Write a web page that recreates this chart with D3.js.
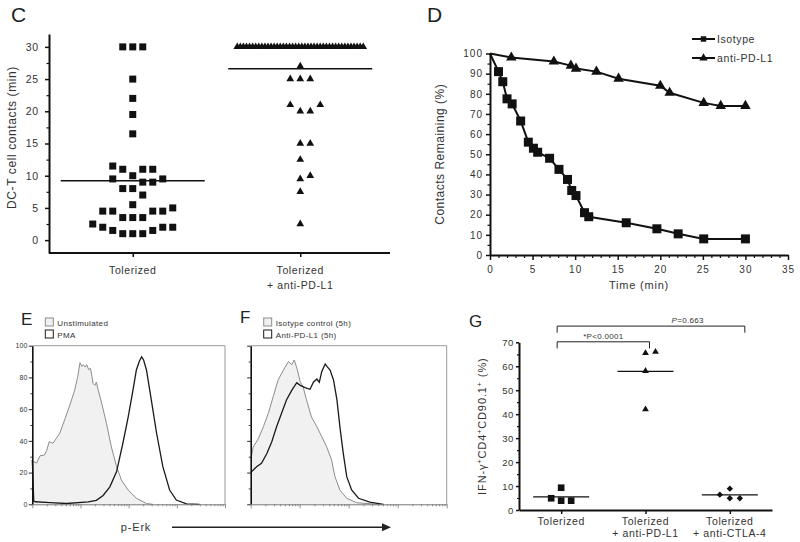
<!DOCTYPE html>
<html><head><meta charset="utf-8">
<script src="https://cdn.jsdelivr.net/npm/d3@7"></script>
<style>
body{margin:0;background:#fff;}
svg{display:block;font-family:"Liberation Sans",Arial,Helvetica,sans-serif;}
</style></head><body>
<svg id="fig" width="800" height="542"></svg>
<script>
// ================= DATA =================
// Panel C : DC-T cell contact duration (min)
const cCategories = ["Tolerized", "Tolerized|+ anti-PD-L1"];
const cTolerized = [30,30,30,25,22,19.5,16.5,11.5,11,11,11,10,9.5,9.5,9,9,8,8,7,5.5,5,4.5,4.5,4.5,4.5,3.5,3.5,3.5,2.5,2,2,2,1.5,1.5,1,1,1];
const cAntiPDL1 = [30,30,30,30,30,30,30,30,30,30,30,30,30,30,30,30,30,30,30,30,30,
                   30,30,30,30,30,30,30,30,30,30,30,30,30,30,30,30,30,30,30,30,30,
                   27,25,25,25,21,21,20,20,15,15,12.5,10,9.5,7.5,2.5];
const cYTicks = [0,5,10,15,20,25,30];
const cYMinor = [2.5,7.5,12.5,17.5,22.5,27.5];

// Panel D : contacts remaining (%)
const dIsoTime = [0,1,1.5,2,2.6,3.6,4.5,5.1,5.6,7,8.1,9.1,9.6,10.1,11.1,11.6,16,19.6,22.1,25.1,30];
const dIsotype = [100,91,86,77.5,75,66.5,56,53,51,48,42.5,37.5,32,29.5,21,19,16,13,10.5,8,8];
const dAntiTime = [0,2.5,7.5,9.5,10.1,12.5,15.1,20,21.1,25.1,27.1,30];
const dAntiPDL1 = [100,98,96,94,92.5,91,87.5,84,80.5,75.5,74,74];
const dXTicks = [0,5,10,15,20,25,30,35];
const dXMinor = [1,2,3,4,6,7,8,9,11,12,13,14,16,17,18,19,21,22,23,24,26,27,28,29,31,32,33,34];
const dYTicks = [0,10,20,30,40,50,60,70,80,90,100];
const dYMinor = [5,15,25,35,45,55,65,75,85,95];
const dSeries = ["Isotype", "anti-PD-L1"];

// Panels E / F : p-Erk histograms  [log10 intensity, % of max]
const eUnstim = [[0,28],[0.02,27],[0.09,26],[0.16,30.6],[0.25,31],[0.3,34],[0.35,39.5],[0.43,38.5],[0.5,41.6],[0.57,44.8],[0.62,49],[0.68,54],[0.78,62.6],[0.88,72],[0.94,80],[0.99,89.3],[1.03,87],[1.06,88],[1.1,86.5],[1.13,88],[1.17,85],[1.21,85.7],[1.26,76.3],[1.3,75],[1.33,77],[1.36,73],[1.44,63.7],[1.54,51],[1.64,36.3],[1.75,23.7],[1.85,15.3],[1.99,9],[2.16,3.8],[2.37,0.5],[2.5,0]];
const ePMA = [[0,28],[0.03,2],[0.06,1.6],[0.37,1],[0.71,0.5],[1.16,1.5],[1.33,2.5],[1.47,5.6],[1.61,11],[1.75,20.6],[1.88,38.5],[1.99,55],[2.09,72],[2.16,84.7],[2.22,90],[2.27,93],[2.31,91],[2.37,84.7],[2.47,65.8],[2.58,44.8],[2.71,23.7],[2.85,9],[2.99,2.7],[3.2,0.3],[3.47,0]];
const fIsotype = [[0,29],[0.02,31],[0.05,36],[0.16,41.6],[0.26,49],[0.36,57.4],[0.46,68],[0.56,78.4],[0.67,84.7],[0.77,90],[0.84,88],[0.89,91],[0.95,85],[1.01,77.3],[1.07,74],[1.14,65.8],[1.24,55],[1.35,49],[1.45,42.6],[1.55,36.3],[1.65,28],[1.72,17.4],[1.82,9],[1.96,3.8],[2.16,1],[2.5,0.2],[2.64,0]];
const fAntiPDL1 = [[0,20],[0.02,20.6],[0.12,23.7],[0.22,25.8],[0.33,32],[0.43,39.5],[0.53,49],[0.63,57.4],[0.73,65.8],[0.84,72],[0.94,76.7],[1.01,75],[1.11,73.6],[1.21,72.5],[1.28,77],[1.35,79],[1.4,77],[1.45,83.6],[1.52,88.5],[1.56,86.8],[1.62,84.7],[1.69,78.4],[1.76,65.8],[1.82,49],[1.89,32],[1.96,17.4],[2.06,9],[2.2,3.8],[2.43,1.3],[2.71,0]];
const hYTicks = [0,20,40,60,80,100];
const hYMinor = [10,30,50,70,90];
const hDecades = [0,1,2,3,4];
const eLegend = ["Unstimulated", "PMA"];
const fLegend = ["Isotype control (5h)", "Anti-PD-L1 (5h)"];

// Panel G : IFN-γ+CD4+CD90.1+ (%)
const gCategories = ["Tolerized", "Tolerized|+ anti-PD-L1", "Tolerized|+ anti-CTLA-4"];
const gTolerized = [4.9, 9.3, 3.9, 3.9];
const gAntiPDL1 = [65.5, 66, 58, 42];
const gAntiCTLA4 = [8.9, 6.4, 4.9, 4.9];
const gYTicks = [0,10,20,30,40,50,60,70];
const gYMinor = [5,15,25,35,45,55,65];
const gComparisons = [{from:0, to:1, label:"*P<0.0001"}, {from:0, to:2, label:"P=0.663"}];

// ================= DRAWING =================
const svg = d3.select("#fig");
const INK = "#111", TXT = "#333";

function styleAxis(g, o) {
  g.select(".domain").attr("stroke", o.dc || INK).attr("stroke-width", o.dw || 2);
  g.selectAll(".tick line").attr("stroke", o.tc || INK).attr("stroke-width", o.tw || 1.5);
  g.selectAll(".tick text").attr("fill", TXT).attr("font-size", o.fs || 10).attr("letter-spacing", o.ls || 0);
  return g;
}
function minorAxis(axis, at, vals, size, color, w) {
  svg.append("g").attr("transform", at)
    .call(axis.tickValues(vals).tickSize(size).tickFormat("").tickSizeOuter(0))
    .call(g => g.select(".domain").remove())
    .call(g => g.selectAll(".tick line").attr("stroke", color || INK).attr("stroke-width", w || 1.2));
}
function swarm(values, y, step, thresh, spreadWidth, tieMax) {
  const counts = d3.rollup(values, v => v.length, d => d);
  const seen = new Map();
  const placed = [];
  const slots = [0,1,-1,2,-2,3,-3,4,-4,5,-5,6,-6,7,-7];
  return values.slice().sort(d3.ascending).map(v => {
    const n = counts.get(v);
    if (n > tieMax) {
      const i = seen.get(v) || 0; seen.set(v, i + 1);
      return {v, dx: -spreadWidth / 2 + spreadWidth * i / (n - 1)};
    }
    const py = y(v);
    const k = slots.find(s => placed.every(p => p.s !== s || Math.abs(p.y - py) >= thresh));
    placed.push({s: k, y: py});
    return {v, dx: k * step};
  });
}
function catLabel(sel, text, x, y0, lh, fs, ls) {
  text.split("|").forEach((t, i) => {
    sel.append("text").attr("x", x).attr("y", y0 + i * lh).attr("text-anchor", "middle")
      .attr("font-size", fs).attr("letter-spacing", ls).attr("fill", TXT).text(t);
  });
}
function panelLetter(t, x, y, fs) {
  svg.append("text").attr("x", x).attr("y", y).attr("font-size", fs).attr("fill", "#222").text(t);
}

// ---------- Panel C ----------
{
  const y = d3.scaleLinear([-2, 32], [253, 34]);
  const x = d3.scalePoint(cCategories, [49, 384]).padding(0.5);
  const x0 = x.range()[0], yb = y.range()[0];
  panelLetter("C", 11, 22, 21);
  svg.append("g").attr("transform", `translate(${x0},0)`)
    .call(d3.axisLeft(y).tickValues(cYTicks).tickSize(4).tickPadding(6).tickSizeOuter(0))
    .call(g => styleAxis(g, {fs: 10.5, ls: 0.8}));
  minorAxis(d3.axisLeft(y), `translate(${x0},0)`, cYMinor, 2.5);
  const xa = svg.append("g").attr("transform", `translate(0,${yb})`)
    .call(d3.axisBottom(x).tickSize(4).tickFormat("").tickSizeOuter(0))
    .call(g => styleAxis(g, {}));
  xa.select(".domain").attr("d", `M${x0},0H${x.range()[1] + 6}`);
  cCategories.forEach(c => catLabel(svg, c, x(c), yb + 21, 15, 10.5, 0.6));
  svg.append("text").attr("transform", `translate(12,${(y(30) + y(0)) / 2 - 6}) rotate(-90)`)
    .attr("text-anchor", "middle").attr("dy", "0.35em").attr("font-size", 12)
    .attr("letter-spacing", 0.6).attr("fill", TXT).text("DC-T cell contacts (min)");

  const groups = [
    {cat: cCategories[0], vals: cTolerized, sym: d3.symbolSquare, size: 49},
    {cat: cCategories[1], vals: cAntiPDL1, sym: d3.symbolTriangle, size: 26}
  ];
  groups.forEach(gr => {
    const cx = x(gr.cat);
    const m = d3.mean(gr.vals);
    svg.append("line").attr("x1", cx - 72).attr("x2", cx + 72)
      .attr("y1", y(m)).attr("y2", y(m)).attr("stroke", INK).attr("stroke-width", 1.6);
    svg.append("g").selectAll("path").data(swarm(gr.vals, y, 10, 10, 126, 12)).join("path")
      .attr("transform", d => `translate(${cx + d.dx},${y(d.v)})`)
      .attr("d", d3.symbol(gr.sym, gr.size)).attr("fill", INK);
  });
}

// ---------- Panel D ----------
{
  const x = d3.scaleLinear([0, 35], [490, 788]);
  const y = d3.scaleLinear([0, 100], [255, 53.5]);
  panelLetter("D", 427, 22, 21);
  svg.append("g").attr("transform", `translate(${x(0)},0)`)
    .call(d3.axisLeft(y).tickValues(dYTicks).tickSize(4).tickPadding(3).tickSizeOuter(0))
    .call(g => styleAxis(g, {fs: 10, ls: 1}));
  minorAxis(d3.axisLeft(y), `translate(${x(0)},0)`, dYMinor, 2.5);
  svg.append("g").attr("transform", `translate(0,${y(0)})`)
    .call(d3.axisBottom(x).tickValues(dXTicks).tickSize(5).tickPadding(5.5).tickSizeOuter(0))
    .call(g => styleAxis(g, {fs: 10, ls: 1}));
  minorAxis(d3.axisBottom(x), `translate(0,${y(0)})`, dXMinor, 3);
  svg.append("text").attr("x", (x(0) + x(35)) / 2).attr("y", 289).attr("text-anchor", "middle")
    .attr("font-size", 11).attr("letter-spacing", 0.8).attr("fill", TXT).text("Time (min)");
  svg.append("text").attr("transform", `translate(440,${(y(0) + y(100)) / 2}) rotate(-90)`)
    .attr("text-anchor", "middle").attr("dy", "0.35em").attr("font-size", 12)
    .attr("letter-spacing", 0.5).attr("fill", TXT).text("Contacts Remaining (%)");

  const line = d3.line().x(d => x(d[0])).y(d => y(d[1]));
  const iso = dIsoTime.map((t, i) => [t, dIsotype[i]]);
  const anti = dAntiTime.map((t, i) => [t, dAntiPDL1[i]]);
  [[iso, d3.symbolSquare, 81], [anti, d3.symbolTriangle, 48]].forEach(([pts, sym, sz]) => {
    svg.append("path").attr("d", line(pts)).attr("fill", "none").attr("stroke", INK).attr("stroke-width", 2);
    svg.append("g").selectAll("path").data(pts.filter(p => p[0] > 0)).join("path")
      .attr("transform", d => `translate(${x(d[0])},${y(d[1])})`)
      .attr("d", d3.symbol(sym, sz)).attr("fill", INK);
  });
  // legend
  const lg = svg.append("g").attr("transform", "translate(692,39)");
  [[dSeries[0], d3.symbolSquare, 30], [dSeries[1], d3.symbolTriangle, 30]].forEach(([t, sym, sz], i) => {
    const row = lg.append("g").attr("transform", `translate(0,${i * 19})`);
    row.append("line").attr("x1", 0).attr("x2", 23).attr("stroke", INK).attr("stroke-width", 2);
    row.append("path").attr("transform", "translate(11.5,0)").attr("d", d3.symbol(sym, sz)).attr("fill", INK);
    row.append("text").attr("x", 25).attr("dy", "0.35em").attr("font-size", 10.5)
      .attr("letter-spacing", 0.6).attr("fill", TXT).text(t);
  });
}

// ---------- Panels E and F ----------
{
  const y = d3.scaleLinear([0, 100], [504.3, 345.7]);
  const panels = [
    {x: d3.scaleLinear([0, 4], [32.3, 225]), fill: eUnstim, dark: ePMA, labels: true, legend: eLegend, letter: "E", lx: 21, ly: 325},
    {x: d3.scaleLinear([0, 4], [250.7, 446.7]), fill: fIsotype, dark: fAntiPDL1, labels: false, legend: fLegend, letter: "F", lx: 240, ly: 323}
  ];
  panels.forEach(p => {
    const x = p.x, xl = x.range()[0], xr = x.range()[1];
    panelLetter(p.letter, p.lx, p.ly, 17);
    // frame
    svg.append("path").attr("d", `M${xl},${y(100)}H${xr}V${y(0)}`).attr("fill", "none")
      .attr("stroke", "#9a9a9a").attr("stroke-width", 1);
    // histograms
    const area = d3.area().x(d => x(d[0])).y0(y(0)).y1(d => y(d[1]));
    const line = d3.line().x(d => x(d[0])).y(d => y(d[1]));
    svg.append("path").attr("d", area(p.fill)).attr("fill", "#f1f1f1");
    svg.append("path").attr("d", line(p.fill)).attr("fill", "none").attr("stroke", "#8c8c8c").attr("stroke-width", 1);
    svg.append("path").attr("d", line(p.dark)).attr("fill", "none").attr("stroke", "#1a1a1a").attr("stroke-width", 1.3);
    // axes
    const ya = svg.append("g").attr("transform", `translate(${xl},0)`)
      .call(d3.axisLeft(y).tickValues(hYTicks).tickSize(3.5).tickPadding(1.5).tickSizeOuter(0)
        .tickFormat(p.labels ? d3.format("d") : ""))
      .call(g => styleAxis(g, {dw: 1.6, tw: 0.9, fs: 7, ls: 0}));
    minorAxis(d3.axisLeft(y), `translate(${xl},0)`, hYMinor, 2, INK, 0.8);
    const minors = [];
    hDecades.slice(0, -1).forEach(d => d3.range(2, 10).forEach(m => minors.push(d + Math.log10(m))));
    svg.append("g").attr("transform", `translate(0,${y(0)})`)
      .call(d3.axisBottom(x).tickValues(hDecades).tickSize(4).tickFormat("").tickSizeOuter(0))
      .call(g => styleAxis(g, {dc: "#777", dw: 1, tc: "#777", tw: 0.8}));
    minorAxis(d3.axisBottom(x), `translate(0,${y(0)})`, minors, 2, "#777", 0.8);
    // legend
    const lg = svg.append("g").attr("transform", `translate(${xl + 13},318)`);
    p.legend.forEach((t, i) => {
      lg.append("rect").attr("x", 0).attr("y", i * 12).attr("width", 8).attr("height", 8)
        .attr("fill", i === 0 ? "#f1f1f1" : "#fff").attr("stroke", i === 0 ? "#8c8c8c" : "#1a1a1a").attr("stroke-width", 1);
      lg.append("text").attr("x", 12).attr("y", i * 12 + 7.5).attr("font-size", 8)
        .attr("letter-spacing", 0.35).attr("fill", TXT).text(t);
    });
  });
  // shared x label with arrow
  svg.append("text").attr("x", 136).attr("y", 531).attr("text-anchor", "middle")
    .attr("font-size", 11).attr("letter-spacing", 0.8).attr("fill", TXT).text("p-Erk");
  svg.append("line").attr("x1", 172).attr("x2", 384).attr("y1", 527.3).attr("y2", 527.3)
    .attr("stroke", "#222").attr("stroke-width", 1.5);
  svg.append("path").attr("d", "M391,527.3L382,523.3L382,531.3Z").attr("fill", "#222");
}

// ---------- Panel G ----------
{
  const y = d3.scaleLinear([0, 70], [510, 342.3]);
  const x = d3.scalePoint(gCategories, [519, 772]).padding(0.5);
  const x0 = x.range()[0], yb = y(0);
  panelLetter("G", 469, 327, 17);
  svg.append("g").attr("transform", `translate(${x0},0)`)
    .call(d3.axisLeft(y).tickValues(gYTicks).tickSize(3).tickPadding(2).tickSizeOuter(0))
    .call(g => styleAxis(g, {fs: 9.5, ls: 0.6}));
  minorAxis(d3.axisLeft(y), `translate(${x0},0)`, gYMinor, 2);
  svg.append("g").attr("transform", `translate(0,${yb})`)
    .call(d3.axisBottom(x).tickSize(4).tickFormat("").tickSizeOuter(0))
    .call(g => styleAxis(g, {}));
  gCategories.forEach(c => catLabel(svg, c, x(c), yb + 15, 12, 10.5, 0.6));
  const yl = svg.append("text").attr("transform", `translate(482,${(y(0) + y(70)) / 2}) rotate(-90)`)
    .attr("text-anchor", "middle").attr("dy", "0.35em").attr("font-size", 11)
    .attr("letter-spacing", 0.9).attr("fill", TXT);
  [["IFN-γ", 0], ["+", 1], ["CD4", 0], ["+", 1], ["CD90.1", 0], ["+", 1], [" (%)", 0]].forEach(([t, sup], i, arr) => {
    const prevSup = i > 0 && arr[i - 1][1];
    yl.append("tspan").attr("dy", sup ? -4 : (prevSup ? 4 : null))
      .attr("font-size", sup ? 7 : 11).text(t);
  });

  const groups = [
    {vals: gTolerized, sym: d3.symbolSquare, size: 44, rot: 0},
    {vals: gAntiPDL1, sym: d3.symbolTriangle, size: 20, rot: 0},
    {vals: gAntiCTLA4, sym: d3.symbolSquare, size: 20, rot: 45}
  ];
  groups.forEach((gr, i) => {
    const cx = x(gCategories[i]);
    const m = d3.mean(gr.vals);
    svg.append("line").attr("x1", cx - 28).attr("x2", cx + 28).attr("y1", y(m)).attr("y2", y(m))
      .attr("stroke", INK).attr("stroke-width", 1.3);
    svg.append("g").selectAll("path").data(swarm(gr.vals, y, 10, 9, 0, 99)).join("path")
      .attr("transform", d => `translate(${cx + d.dx},${y(d.v)}) rotate(${gr.rot})`)
      .attr("d", d3.symbol(gr.sym, gr.size)).attr("fill", INK);
  });
  // significance brackets
  gComparisons.forEach((c, lvl) => {
    const yy = y(70) - 0.5 - lvl * 15.7;
    const xa = x(gCategories[c.from]) - 4;
    const xb = x(gCategories[c.to]) + 4 + lvl * 11;
    svg.append("path").attr("d", `M${xa},${yy + 6.6}V${yy}H${xb}V${yy + 6.6}`)
      .attr("fill", "none").attr("stroke", "#222").attr("stroke-width", 1);
    const lx = (x(gCategories[c.to - 1]) + x(gCategories[c.to])) / 2;
    const t = svg.append("text").attr("x", lx).attr("y", yy - 2.8).attr("text-anchor", "middle")
      .attr("font-size", 8).attr("letter-spacing", 0.3).attr("fill", TXT);
    if (c.label.startsWith("P")) {
      t.append("tspan").attr("font-style", "italic").text("P");
      t.append("tspan").text(c.label.slice(1));
    } else t.text(c.label);
  });
}
</script>
</body></html>
